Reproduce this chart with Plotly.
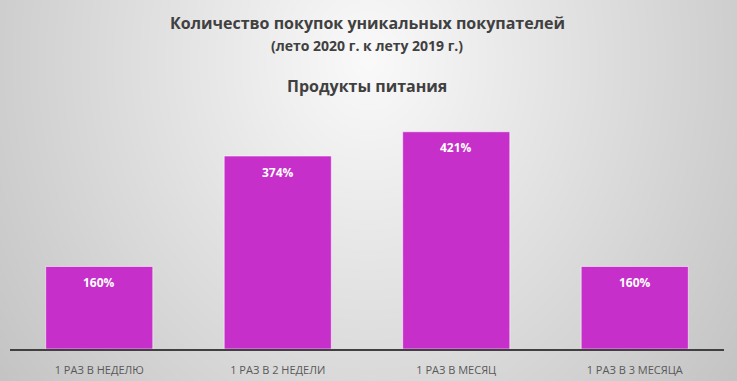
import base64, struct, zlib
import numpy as np
import plotly.graph_objects as go

categories = ["1 РАЗ В НЕДЕЛЮ", "1 РАЗ В 2 НЕДЕЛИ", "1 РАЗ В МЕСЯЦ", "1 РАЗ В 3 МЕСЯЦА"]
values = [160, 374, 421, 160]
labels = ["160%", "374%", "421%", "160%"]
title_line1 = "Количество покупок уникальных покупателей"
title_line2 = "(лето 2020 г. к лету 2019 г.)"
subtitle = "Продукты питания"

W, H = 737, 381
ML, MR, MT, MB = 10, 13, 110, 32
PW, PH = W - ML - MR, H - MT - MB

# radial gray background (decoration) as an inline PNG
yy, xx = np.mgrid[0:H, 0:W].astype(float)
d = np.sqrt((xx - 368) ** 2 + (0.85 * (yy - 60)) ** 2)
g = np.clip(250 - 0.118 * d, 0, 255).astype(np.uint8)
raw = b"".join(b"\x00" + g[r].tobytes() for r in range(H))
def chunk(t, data):
    c = struct.pack(">I", len(data)) + t + data
    return c + struct.pack(">I", zlib.crc32(t + data) & 0xffffffff)
png = b"\x89PNG\r\n\x1a\n" + chunk(b"IHDR", struct.pack(">IIBBBBB", W, H, 8, 0, 0, 0, 0)) \
    + chunk(b"IDAT", zlib.compress(raw, 9)) + chunk(b"IEND", b"")
bg_uri = "data:image/png;base64," + base64.b64encode(png).decode()

fig = go.Figure()
fig.add_trace(go.Bar(
    x=categories, y=values,
    marker=dict(color="#C62FC9", line=dict(color="rgba(255,255,255,0.55)", width=1)),
    hoverinfo="skip",
))

for c, v, t in zip(categories, values, labels):
    fig.add_annotation(x=c, y=v, text=t, showarrow=False, yanchor="middle", yshift=-16,
                       font=dict(family="Open Sans", size=12, color="white", weight="bold"))

fig.add_annotation(xref="paper", yref="paper", x=0.5, y=1 + (MT - 23) / PH, text=title_line1,
                   showarrow=False, yanchor="middle",
                   font=dict(family="Open Sans", size=16, color="#404040", weight="bold"))
fig.add_annotation(xref="paper", yref="paper", x=0.5, y=1 + (MT - 45) / PH, text=title_line2,
                   showarrow=False, yanchor="middle",
                   font=dict(family="Open Sans", size=14, color="#404040", weight="bold"))
fig.add_annotation(xref="paper", yref="paper", x=0.5, y=1 + (MT - 86) / PH, text=subtitle,
                   showarrow=False, yanchor="middle",
                   font=dict(family="Open Sans", size=16, color="#404040", weight="bold"))

fig.add_layout_image(dict(source=bg_uri, xref="paper", yref="paper",
                          x=-ML / PW, y=1 + MT / PH, sizex=W / PW, sizey=H / PH,
                          sizing="stretch", xanchor="left", yanchor="top", layer="below"))

fig.update_layout(
    width=W, height=H,
    margin=dict(l=ML, r=MR, t=MT, b=MB, autoexpand=False),
    paper_bgcolor="#d8d8d8", plot_bgcolor="rgba(0,0,0,0)",
    bargap=0.4, showlegend=False,
    xaxis=dict(showline=True, linecolor="#404040", linewidth=1.5, ticks="",
               tickfont=dict(family="Open Sans", size=11, color="#595959"),
               ticklabelstandoff=10, automargin=False,
               showgrid=False, zeroline=False, fixedrange=True),
    yaxis=dict(range=[0, PH / 0.516], visible=False, showgrid=False, zeroline=False,
               fixedrange=True, automargin=False),
)

fig.write_html("out.html", config={"displayModeBar": False},
               post_script="document.body.style.margin='0';document.body.style.overflow='hidden';")
